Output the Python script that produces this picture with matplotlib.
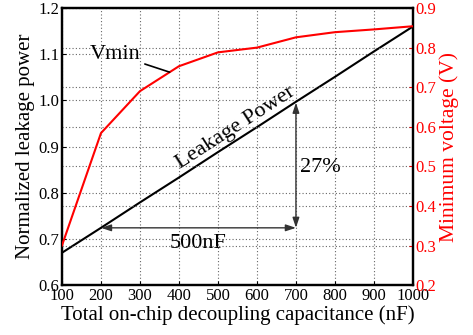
import matplotlib
matplotlib.use('Agg')
import matplotlib.pyplot as plt
import numpy as np

plt.rcParams['font.family'] = ['Liberation Serif', 'DejaVu Serif']

# 去耦电容 (nF)
cap_nf = [100, 200, 300, 400, 500, 600, 700, 800, 900, 1000]
# 归一化漏电功耗
leakage = [0.67, 0.724, 0.779, 0.833, 0.888, 0.942, 0.997, 1.051, 1.106, 1.16]
# 最小工作电压 (V)
vmin = [0.30, 0.584, 0.69, 0.753, 0.788, 0.80, 0.826, 0.839, 0.846, 0.854]

left_ticks = [0.6, 0.7, 0.8, 0.9, 1.0, 1.1, 1.2]
right_ticks = [0.2, 0.3, 0.4, 0.5, 0.6, 0.7, 0.8, 0.9]

fig = plt.figure(figsize=(4.73, 3.35), dpi=100)
ax = fig.add_axes([0.131, 0.149, 0.742, 0.827])
ax2 = ax.twinx()

grid_kw = dict(color='#666666', linestyle=(0, (1, 2)), linewidth=0.8)

ax.plot(cap_nf, leakage, color='black', linewidth=1.5, zorder=3)
ax2.plot(cap_nf, vmin, color='red', linewidth=1.5, zorder=3)

ax.set_xlim(100, 1000)
ax.set_ylim(0.6, 1.2)
ax2.set_ylim(0.2, 0.9)
ax.set_xticks(cap_nf)
ax.set_yticks(left_ticks)
ax2.set_yticks(right_ticks)
ax.set_yticklabels([f'{v:.1f}' for v in left_ticks])
ax2.set_yticklabels([f'{v:.1f}' for v in right_ticks])

ax.grid(True, **grid_kw)
ax2.grid(True, axis='y', **grid_kw)

ax.tick_params(direction='in', labelsize=12, length=3, pad=2)
ax2.tick_params(direction='in', labelsize=12, length=3, pad=2, colors='red')
for sp in list(ax.spines.values()) + list(ax2.spines.values()):
    sp.set_linewidth(1.6)

ax.set_xlabel('Total on-chip decoupling capacitance (nF)', fontsize=15, labelpad=1)
ax.set_ylabel('Normalized leakage power', fontsize=15, labelpad=2)
ax2.set_ylabel('Minimum voltage (V)', fontsize=15.5, color='red', labelpad=2)

# 标注 Vmin 曲线
ax2.annotate('Vmin', xy=(376, 0.738), xytext=(302, 0.783), ha='right', va='center',
             fontsize=16, arrowprops=dict(arrowstyle='-', color='black', lw=1.2,
                                          shrinkA=1, shrinkB=0))

# 沿直线旋转的标签
p0 = ax.transData.transform((cap_nf[0], leakage[0]))
p1 = ax.transData.transform((cap_nf[-1], leakage[-1]))
angle = np.degrees(np.arctan2(p1[1] - p0[1], p1[0] - p0[0]))
ax.text(545, 0.94, 'Leakage Power', rotation=angle, rotation_mode='anchor',
        ha='center', va='center', fontsize=16)

# 27% 与 500nF 的箭头
arrow_kw = dict(arrowstyle='<|-|>,head_length=0.6,head_width=0.2', color='#333333',
                lw=1.0, mutation_scale=10, shrinkA=0, shrinkB=0)
ax.annotate('', xy=(700, 0.995), xytext=(700, 0.724), arrowprops=arrow_kw)
ax.annotate('', xy=(200, 0.724), xytext=(700, 0.724), arrowprops=arrow_kw)
ax.text(710, 0.855, '27%', ha='left', va='center', fontsize=16)
ax.text(450, 0.69, '500nF', ha='center', va='center', fontsize=16)

fig.savefig('out.png', dpi=100)
